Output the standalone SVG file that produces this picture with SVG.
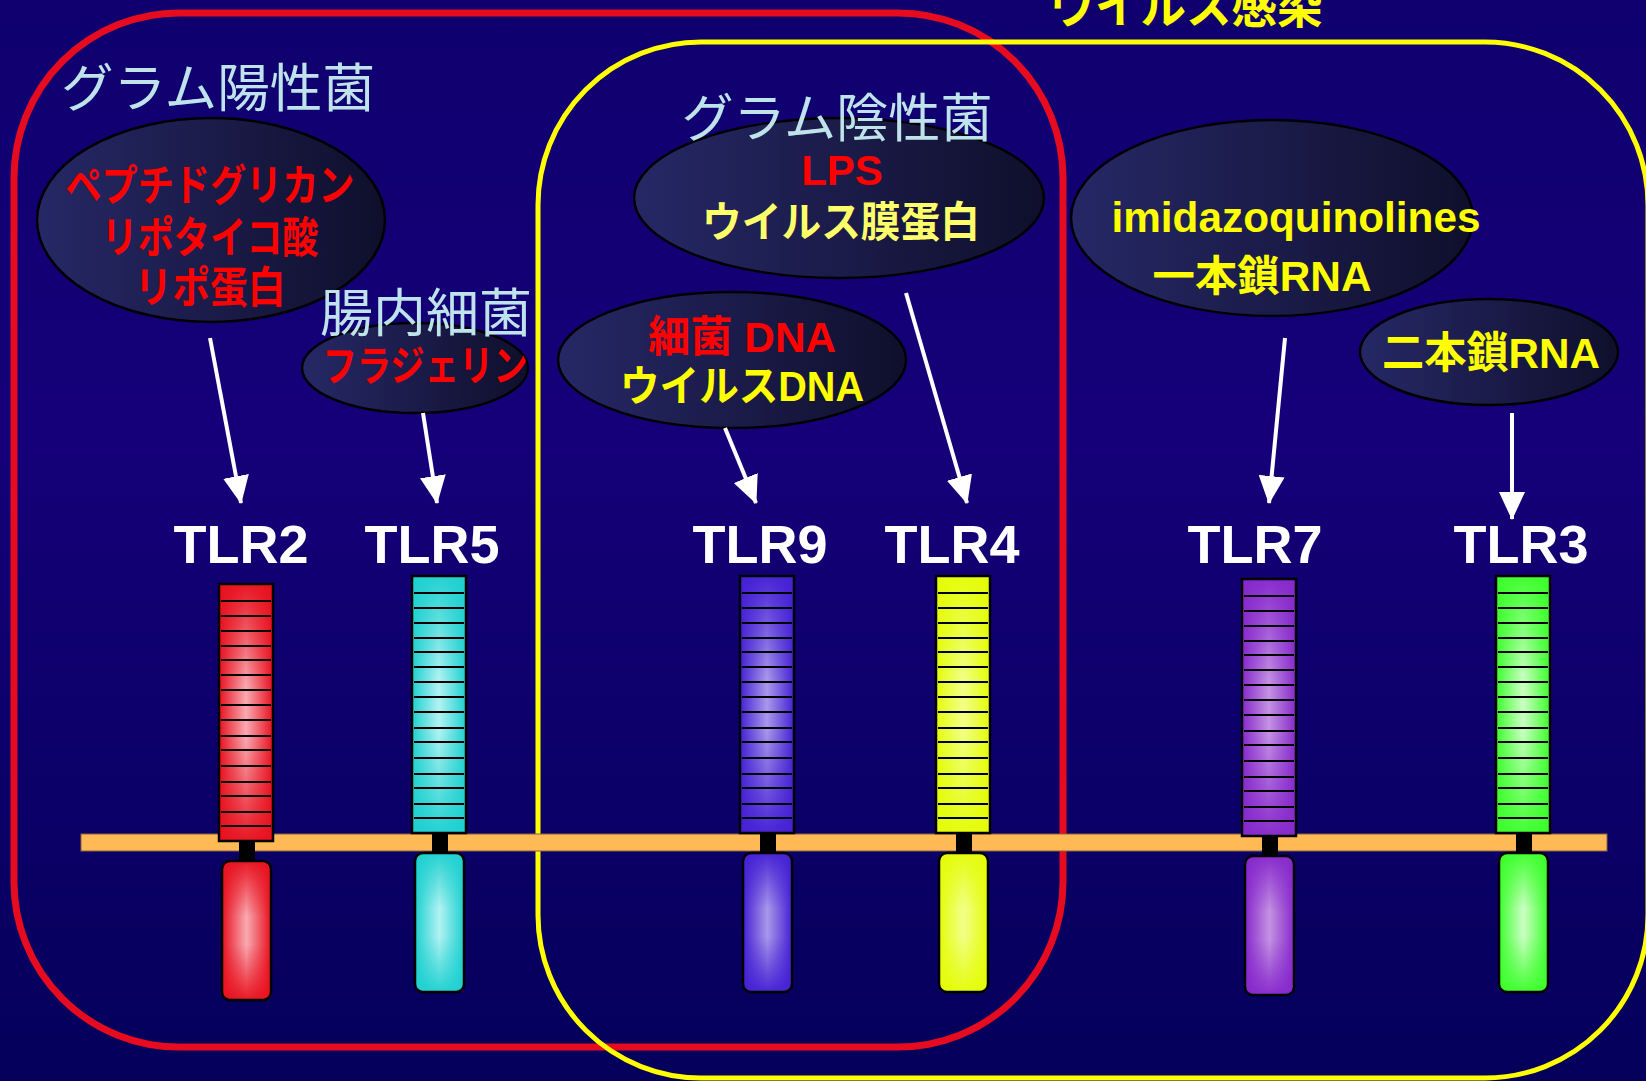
<svg xmlns="http://www.w3.org/2000/svg" width="1646" height="1081" viewBox="0 0 1646 1081">
  <defs>
    <linearGradient id="bg" x1="0" y1="0" x2="0" y2="1">
      <stop offset="0" stop-color="#0f006e"/>
      <stop offset="0.4" stop-color="#150079"/>
      <stop offset="1" stop-color="#04005a"/>
    </linearGradient>
    <linearGradient id="oval" x1="0" y1="0" x2="1" y2="0">
      <stop offset="0" stop-color="#262866"/>
      <stop offset="1" stop-color="#0f0f2c"/>
    </linearGradient>
    <!-- horizontal shading of each receptor colour -->
    <linearGradient id="h-red" x1="0" y1="0" x2="1" y2="0">
      <stop offset="0" stop-color="#e8101e"/><stop offset="0.5" stop-color="#f8aab2"/><stop offset="1" stop-color="#e8101e"/>
    </linearGradient>
    <linearGradient id="h-cyan" x1="0" y1="0" x2="1" y2="0">
      <stop offset="0" stop-color="#1ed0d0"/><stop offset="0.5" stop-color="#b2f2f2"/><stop offset="1" stop-color="#1ed0d0"/>
    </linearGradient>
    <linearGradient id="h-blue" x1="0" y1="0" x2="1" y2="0">
      <stop offset="0" stop-color="#4420d4"/><stop offset="0.5" stop-color="#a898ea"/><stop offset="1" stop-color="#4420d4"/>
    </linearGradient>
    <linearGradient id="h-yellow" x1="0" y1="0" x2="1" y2="0">
      <stop offset="0" stop-color="#e4fc08"/><stop offset="0.5" stop-color="#f2ff88"/><stop offset="1" stop-color="#e4fc08"/>
    </linearGradient>
    <linearGradient id="h-purple" x1="0" y1="0" x2="1" y2="0">
      <stop offset="0" stop-color="#8628cc"/><stop offset="0.5" stop-color="#c492e2"/><stop offset="1" stop-color="#8628cc"/>
    </linearGradient>
    <linearGradient id="h-green" x1="0" y1="0" x2="1" y2="0">
      <stop offset="0" stop-color="#3cff2c"/><stop offset="0.5" stop-color="#ccffc4"/><stop offset="1" stop-color="#3cff2c"/>
    </linearGradient>
    <!-- vertical shading laid over the horizontal one -->
    <linearGradient id="v-red" x1="0" y1="0" x2="0" y2="1">
      <stop offset="0" stop-color="#e8101e" stop-opacity="0.95"/><stop offset="0.4" stop-color="#e8101e" stop-opacity="0"/><stop offset="0.6" stop-color="#e8101e" stop-opacity="0"/><stop offset="1" stop-color="#e8101e" stop-opacity="0.95"/>
    </linearGradient>
    <linearGradient id="v-cyan" x1="0" y1="0" x2="0" y2="1">
      <stop offset="0" stop-color="#1ed0d0" stop-opacity="0.95"/><stop offset="0.4" stop-color="#1ed0d0" stop-opacity="0"/><stop offset="0.6" stop-color="#1ed0d0" stop-opacity="0"/><stop offset="1" stop-color="#1ed0d0" stop-opacity="0.95"/>
    </linearGradient>
    <linearGradient id="v-blue" x1="0" y1="0" x2="0" y2="1">
      <stop offset="0" stop-color="#4420d4" stop-opacity="0.95"/><stop offset="0.4" stop-color="#4420d4" stop-opacity="0"/><stop offset="0.6" stop-color="#4420d4" stop-opacity="0"/><stop offset="1" stop-color="#4420d4" stop-opacity="0.95"/>
    </linearGradient>
    <linearGradient id="v-yellow" x1="0" y1="0" x2="0" y2="1">
      <stop offset="0" stop-color="#e4fc08" stop-opacity="0.95"/><stop offset="0.4" stop-color="#e4fc08" stop-opacity="0"/><stop offset="0.6" stop-color="#e4fc08" stop-opacity="0"/><stop offset="1" stop-color="#e4fc08" stop-opacity="0.95"/>
    </linearGradient>
    <linearGradient id="v-purple" x1="0" y1="0" x2="0" y2="1">
      <stop offset="0" stop-color="#8628cc" stop-opacity="0.95"/><stop offset="0.4" stop-color="#8628cc" stop-opacity="0"/><stop offset="0.6" stop-color="#8628cc" stop-opacity="0"/><stop offset="1" stop-color="#8628cc" stop-opacity="0.95"/>
    </linearGradient>
    <linearGradient id="v-green" x1="0" y1="0" x2="0" y2="1">
      <stop offset="0" stop-color="#3cff2c" stop-opacity="0.95"/><stop offset="0.4" stop-color="#3cff2c" stop-opacity="0"/><stop offset="0.6" stop-color="#3cff2c" stop-opacity="0"/><stop offset="1" stop-color="#3cff2c" stop-opacity="0.95"/>
    </linearGradient>
    <marker id="head" viewBox="0 0 28 26" refX="27" refY="13" markerWidth="28" markerHeight="26" markerUnits="userSpaceOnUse" orient="auto">
      <path d="M0,0 L28,13 L0,26 z" fill="#ffffff"/>
    </marker>
    <!-- leucine-rich repeat stripes of the ectodomain -->
    <path id="stripes" d="M2,17H52M2,32H52M2,47H52M2,62H52M2,76H52M2,91H52M2,106H52M2,121H52M2,136H52M2,152H52M2,166H52M2,182H52M2,198H52M2,212H52M2,228H52M2,242H52"/>
  </defs>
  <style>
    .group-label { font-family: "Noto Sans CJK JP", sans-serif; font-size: 52px; fill: #bfe3ea; text-anchor: middle; }
    .oval { fill: url(#oval); stroke: #000; stroke-width: 2.5; }
    .ligand { font-family: "Liberation Sans", "Noto Sans CJK JP", sans-serif; font-weight: bold; text-anchor: middle; }
    .red { fill: #ff0000; }
    .yel { fill: #ffff00; }
    .pale { fill: #ffff6a; }
    .tlr-name { font-family: "Liberation Sans", sans-serif; font-weight: bold; font-size: 54px; fill: #ffffff; text-anchor: middle; }
    .edge { stroke: #000; stroke-width: 2.5; }
    .stripe { fill: none; stroke: #000; stroke-width: 2.2; }
    .stub { fill: #000; }
    .arrow { stroke: #ffffff; stroke-width: 4; fill: none; marker-end: url(#head); }
  </style>

  <rect width="1646" height="1081" fill="url(#bg)"/>

  <!-- title of the virus set, running off the top edge -->
  <text x="1186" y="23" class="ligand yel" font-size="48" textLength="273" lengthAdjust="spacingAndGlyphs">ウイルス感染</text>

  <!-- group frames -->
  <g id="frames" fill="none">
    <rect id="frame-bacteria" x="14" y="13" width="1049" height="1034" rx="165" ry="165" stroke="#e60b1f" stroke-width="7"/>
    <rect id="frame-virus" x="538" y="42" width="1110" height="1036" rx="163" ry="163" stroke="#ffff00" stroke-width="5"/>
  </g>

  <!-- ligand ovals -->
  <g id="ligand-gram-positive">
    <ellipse class="oval" cx="211" cy="220" rx="174" ry="102"/>
    <text class="ligand red" font-size="43" x="210" y="201" textLength="289" lengthAdjust="spacingAndGlyphs">ペプチドグリカン</text>
    <text class="ligand red" font-size="43" x="210" y="253" textLength="217" lengthAdjust="spacingAndGlyphs">リポタイコ酸</text>
    <text class="ligand red" font-size="43" x="210" y="303" textLength="151" lengthAdjust="spacingAndGlyphs">リポ蛋白</text>
  </g>
  <g id="ligand-flagellin">
    <ellipse class="oval" cx="415" cy="368" rx="113" ry="45"/>
    <text class="ligand red" font-size="42" x="425" y="381" textLength="205" lengthAdjust="spacingAndGlyphs">フラジェリン</text>
  </g>
  <g id="ligand-lps">
    <ellipse class="oval" cx="839" cy="198" rx="205" ry="80"/>
    <text class="ligand red" font-size="42" x="842" y="185">LPS</text>
    <text class="ligand pale" font-size="42" x="841" y="237" textLength="278" lengthAdjust="spacingAndGlyphs">ウイルス膜蛋白</text>
  </g>
  <g id="ligand-dna">
    <ellipse class="oval" cx="732" cy="360" rx="174" ry="68"/>
    <text class="ligand red" font-size="43" x="742" y="352" textLength="188" lengthAdjust="spacingAndGlyphs">細菌 DNA</text>
    <text class="ligand yel" font-size="42" x="742" y="401" textLength="244" lengthAdjust="spacingAndGlyphs">ウイルスDNA</text>
  </g>
  <g id="ligand-ssrna">
    <ellipse class="oval" cx="1272" cy="218" rx="201" ry="98"/>
    <text class="ligand yel" font-size="42" x="1296" y="232" textLength="369" lengthAdjust="spacingAndGlyphs">imidazoquinolines</text>
    <text class="ligand yel" font-size="42" x="1262" y="291" textLength="219" lengthAdjust="spacingAndGlyphs">一本鎖RNA</text>
  </g>
  <g id="ligand-dsrna">
    <ellipse class="oval" cx="1489" cy="352" rx="129" ry="53"/>
    <text class="ligand yel" font-size="43" x="1491" y="368" textLength="218" lengthAdjust="spacingAndGlyphs">二本鎖RNA</text>
  </g>

  <!-- group captions sit above the ovals -->
  <g id="captions">
    <text class="group-label" x="218" y="107" textLength="314" lengthAdjust="spacingAndGlyphs">グラム陽性菌</text>
    <text class="group-label" x="837" y="137" textLength="311" lengthAdjust="spacingAndGlyphs">グラム陰性菌</text>
    <text class="group-label" x="426" y="332" textLength="212" lengthAdjust="spacingAndGlyphs">腸内細菌</text>
  </g>

  <!-- cell membrane -->
  <rect id="membrane" x="81" y="834" width="1526" height="17" fill="#ffba55" stroke="#8a6040" stroke-width="1"/>

  <!-- receptors: ectodomain, transmembrane stub, cytoplasmic domain -->
  <g id="tlr2">
    <text class="tlr-name" x="241" y="563">TLR2</text>
    <g transform="translate(219,584)">
      <rect width="54" height="257" fill="url(#h-red)"/>
      <rect width="54" height="257" fill="url(#v-red)" class="edge"/>
      <use href="#stripes" class="stripe"/>
      <rect class="stub" x="20" y="257" width="16" height="21"/>
      <rect x="3" y="277" width="49" height="139" rx="8" fill="url(#h-red)"/>
      <rect x="3" y="277" width="49" height="139" rx="8" fill="url(#v-red)" class="edge"/>
    </g>
  </g>
  <g id="tlr5">
    <text class="tlr-name" x="432" y="563">TLR5</text>
    <g transform="translate(412,576)">
      <rect width="54" height="257" fill="url(#h-cyan)"/>
      <rect width="54" height="257" fill="url(#v-cyan)" class="edge"/>
      <use href="#stripes" class="stripe"/>
      <rect class="stub" x="20" y="257" width="16" height="21"/>
      <rect x="3" y="277" width="49" height="139" rx="8" fill="url(#h-cyan)"/>
      <rect x="3" y="277" width="49" height="139" rx="8" fill="url(#v-cyan)" class="edge"/>
    </g>
  </g>
  <g id="tlr9">
    <text class="tlr-name" x="760" y="563">TLR9</text>
    <g transform="translate(740,576)">
      <rect width="54" height="257" fill="url(#h-blue)"/>
      <rect width="54" height="257" fill="url(#v-blue)" class="edge"/>
      <use href="#stripes" class="stripe"/>
      <rect class="stub" x="20" y="257" width="16" height="21"/>
      <rect x="3" y="277" width="49" height="139" rx="8" fill="url(#h-blue)"/>
      <rect x="3" y="277" width="49" height="139" rx="8" fill="url(#v-blue)" class="edge"/>
    </g>
  </g>
  <g id="tlr4">
    <text class="tlr-name" x="952" y="563">TLR4</text>
    <g transform="translate(936,576)">
      <rect width="54" height="257" fill="url(#h-yellow)"/>
      <rect width="54" height="257" fill="url(#v-yellow)" class="edge"/>
      <use href="#stripes" class="stripe"/>
      <rect class="stub" x="20" y="257" width="16" height="21"/>
      <rect x="3" y="277" width="49" height="139" rx="8" fill="url(#h-yellow)"/>
      <rect x="3" y="277" width="49" height="139" rx="8" fill="url(#v-yellow)" class="edge"/>
    </g>
  </g>
  <g id="tlr7">
    <text class="tlr-name" x="1255" y="563">TLR7</text>
    <g transform="translate(1242,579)">
      <rect width="54" height="257" fill="url(#h-purple)"/>
      <rect width="54" height="257" fill="url(#v-purple)" class="edge"/>
      <use href="#stripes" class="stripe"/>
      <rect class="stub" x="20" y="257" width="16" height="21"/>
      <rect x="3" y="277" width="49" height="139" rx="8" fill="url(#h-purple)"/>
      <rect x="3" y="277" width="49" height="139" rx="8" fill="url(#v-purple)" class="edge"/>
    </g>
  </g>
  <g id="tlr3">
    <text class="tlr-name" x="1521" y="563">TLR3</text>
    <g transform="translate(1496,576)">
      <rect width="54" height="257" fill="url(#h-green)"/>
      <rect width="54" height="257" fill="url(#v-green)" class="edge"/>
      <use href="#stripes" class="stripe"/>
      <rect class="stub" x="20" y="257" width="16" height="21"/>
      <rect x="3" y="277" width="49" height="139" rx="8" fill="url(#h-green)"/>
      <rect x="3" y="277" width="49" height="139" rx="8" fill="url(#v-green)" class="edge"/>
    </g>
  </g>

  <!-- ligand to receptor arrows -->
  <g id="connectors">
    <line class="arrow" x1="210" y1="338" x2="241" y2="503"/>
    <line class="arrow" x1="423" y1="413" x2="437" y2="503"/>
    <line class="arrow" x1="725" y1="428" x2="756" y2="503"/>
    <line class="arrow" x1="906" y1="293" x2="967" y2="503"/>
    <line class="arrow" x1="1285" y1="338" x2="1269" y2="503"/>
    <line class="arrow" x1="1512" y1="413" x2="1512" y2="519"/>
  </g>
</svg>
